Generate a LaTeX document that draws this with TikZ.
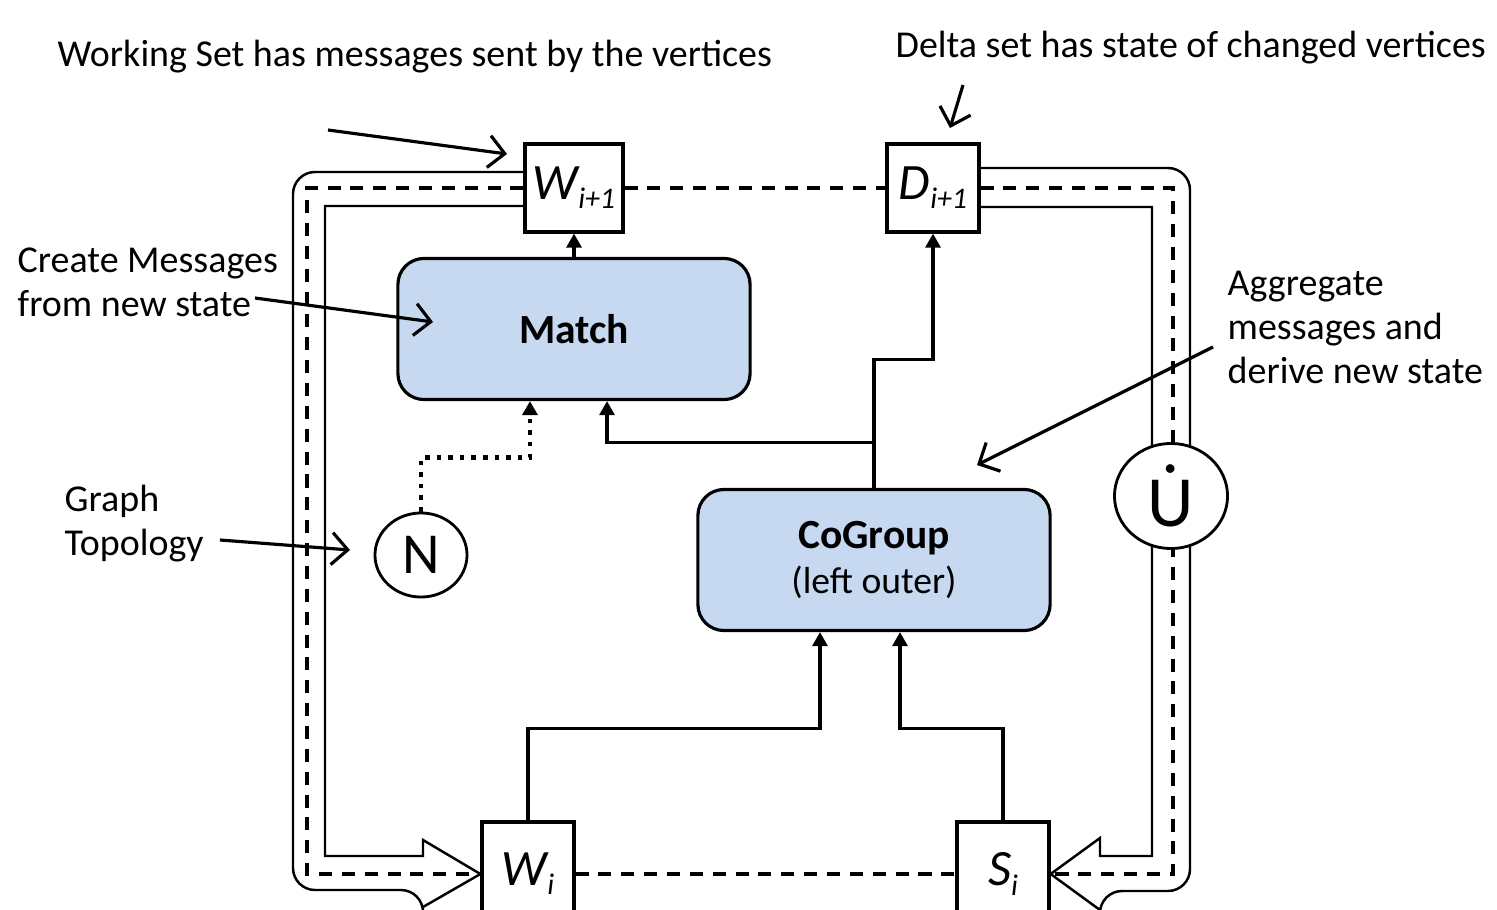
\documentclass[tikz,border=0pt]{standalone}
\usepackage{fontspec}
\setmainfont{Carlito}
\usetikzlibrary{arrows.meta,shapes.geometric}
\definecolor{opfill}{HTML}{C6D9F1}
\newcommand{\setlabel}[2]{{\fontsize{14.5}{15}\selectfont\itshape #1}\raisebox{-0.55ex}{\fontsize{8.5}{9}\selectfont\itshape #2}}
\newcommand{\dotU}{\accent"02D9 U}

\begin{document}
\begin{tikzpicture}[x=0.01cm,y=-0.01cm,
    setbox/.style={draw, line width=0.9pt, fill=white, minimum width=0.92cm, minimum height=0.88cm, inner sep=0pt},
    opbox/.style={draw, line width=0.9pt, fill=opfill, rounded corners=0.26cm, minimum width=3.52cm, minimum height=1.41cm, align=center},
    opcirc/.style={ellipse, draw, line width=0.8pt, fill=white, inner sep=0pt},
    loopline/.style={line width=0.7pt},
    dashline/.style={line width=1pt, dash pattern=on 3.7pt off 2.8pt},
    conn/.style={line width=0.9pt, -{Triangle[length=1.4mm,width=1.5mm]}},
    note/.style={anchor=north west, inner sep=0pt, align=left, font=\fontsize{10.8}{12.6}\selectfont},
    notearrow/.style={line width=0.9pt, -{Straight Barb[length=1.6mm,width=3.2mm]}}]
    \fill[white] (0,0) rectangle (1497,909);
    \useasboundingbox (0,0) rectangle (1497,909);

    % Set boxes
    \node[setbox, minimum width=0.98cm] (wnext) at (574,188) {\setlabel{W}{i+1}};
    \node[setbox] (dnext) at (933,188) {\setlabel{D}{i+1}};
    \node[setbox, minimum height=1.04cm] (wcur) at (528,874) {\setlabel{W}{i}};
    \node[setbox, minimum height=1.04cm] (scur) at (1003,874) {\setlabel{S}{i}};

    % Operators
    \node[opbox, font=\fontsize{11.8}{14}\selectfont\bfseries] (match) at (574,329) {Match};
    \node[opbox, font=\fontsize{11.8}{13}\selectfont] (cogroup) at (874,560) {\textbf{CoGroup}\\{\fontsize{10.7}{13}\selectfont(left outer)}};

    % Feedback loops (hollow arrows)
    \draw[loopline] ([yshift=0.16cm]wnext.west) [rounded corners=0.22cm] -| (293,890) -- (423,890) [sharp corners]
        -- (423,907) -- (wcur.west) -- (423,840) -- (423,856) -- (325,856) -- (325,206) -- ([yshift=-0.18cm]wnext.west);
    \draw[loopline] ([yshift=0.2cm]dnext.east) [rounded corners=0.22cm] -| (1190,891) -- (1100,891) [sharp corners]
        -- (1100,910) -- (scur.east) -- (1100,838) -- (1100,856) -- (1152,856) -- (1152,207) -- ([yshift=-0.19cm]dnext.east);
    \draw[dashline] (wnext.west) -| (307,874) -- (wcur.west);
    \draw[dashline] (dnext.east) -| (1173,874) -- (scur.east);
    \draw[dashline] (wnext.east) -- (dnext.west);
    \draw[dashline] (wcur.east) -- (scur.west);

    % Circles
    \node[opcirc, minimum width=0.92cm, minimum height=0.84cm, font=\fontsize{16.5}{18}\selectfont] (ncirc) at (421,555) {N};
    \node[opcirc, minimum width=1.13cm, minimum height=1.05cm, font=\fontsize{20.5}{22}\selectfont] (ucirc) at (1171,496) {\dotU};

    % Data flow
    \coordinate (split) at ([yshift=0.45cm]cogroup.north);
    \draw[conn] (match.north) -- (wnext.south);
    \draw[conn] (cogroup.north) -- (split) -| ([xshift=0.33cm]match.south);
    \draw[conn] (split) -- ++(0,-83) -| (dnext.south);
    \draw[conn] (wcur.north) -- ++(0,-92) -| ([xshift=-0.54cm]cogroup.south);
    \draw[conn] (scur.north) -- ++(0,-92) -| ([xshift=0.26cm]cogroup.south);
    \draw[conn, line width=1.3pt, dotted] (ncirc.north) -- ++(0,-54) -| ([xshift=-0.44cm]match.south);

    % Notes
    \node[note] (worknote) at (57,39) {Working Set has messages sent by the vertices};
    \node[note] (deltanote) at (895,30) {Delta set has state of changed vertices};
    \node[note] (createnote) at (17,247) {Create Messages\\from new state};
    \node[note] (aggnote) at (1227,270) {Aggregate\\messages and\\derive new state};
    \node[note] (graphnote) at (64,484) {Graph\\Topology};

    \coordinate (worktail) at (328,130);
    \coordinate (workhead) at (507,154);
    \coordinate (deltatail) at (963,85);
    \coordinate (deltahead) at (950,128);
    \coordinate (createtail) at (255,298);
    \coordinate (createhead) at (433,322);
    \coordinate (aggtail) at (1213,347);
    \coordinate (agghead) at (977,465);
    \coordinate (graphtail) at (220,540);
    \coordinate (graphhead) at (350,550);
    \draw[notearrow] (worktail) -- (workhead);
    \draw[notearrow] (deltatail) -- (deltahead);
    \draw[notearrow] (createtail) -- (createhead);
    \draw[notearrow] (aggtail) -- (agghead);
    \draw[notearrow] (graphtail) -- (graphhead);
\end{tikzpicture}
\end{document}
